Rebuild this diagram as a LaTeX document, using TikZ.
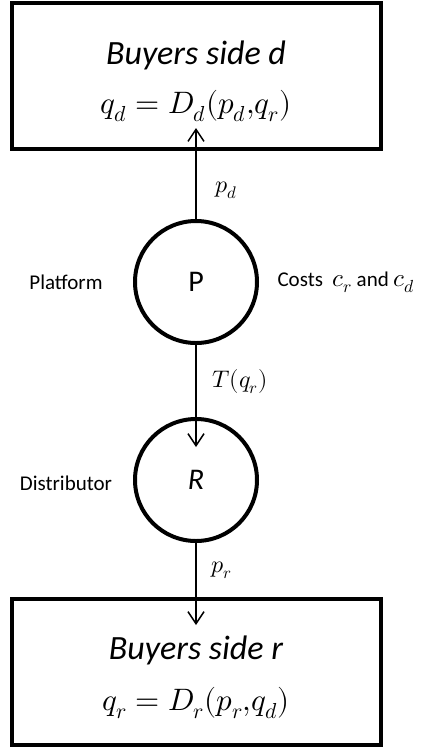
\documentclass[tikz,border=0pt]{standalone}
\usepackage{unicode-math}
\setmainfont{Carlito}
\setmathfont{Latin Modern Math}
\usetikzlibrary{arrows.meta}
\begin{document}
\begin{tikzpicture}[x=1pt,y=-1pt,
  box/.style={draw,line width=4pt,rectangle,minimum width=369pt,minimum height=146pt,inner sep=0pt},
  agent/.style={draw,line width=4pt,circle,minimum size=122pt,inner sep=0pt,font=\fontsize{30}{34}\selectfont},
  flow/.style={line width=1.5pt,-{Straight Barb[length=12pt,width=16pt,line width=1.5pt]}},
  lbl/.style={font=\fontsize{21}{25}\selectfont},
  ttl/.style={font=\fontsize{34}{40}\selectfont\itshape},
  eqn/.style={font=\fontsize{31}{36}\selectfont},
  mlbl/.style={font=\fontsize{24}{28}\selectfont}]
\useasboundingbox (0,0) rectangle (421,748);
\node[box] (top) at (196.5,76) {};
\node[box] (bot) at (196.5,672) {};
\node[agent] (P) at (196,282) {P};
\node[agent] (R) at (196,480) {\itshape R};
\coordinate (tipD) at (196,128);
\coordinate (tipR) at (196,447);
\coordinate (tipB) at (196,625);
\draw[flow] (P.north) -- (tipD);
\draw[flow] (P.south) -- (tipR);
\draw[flow] (R.south) -- (tipB);
\node[ttl] (t1) at (196,55) {Buyers side d};
\node[eqn] (e1) at (196,106) {$q_d = D_d(p_d{,}q_r)$};
\node[ttl] (t2) at (196,650) {Buyers side r};
\node[eqn] (e2) at (196,703) {$q_r = D_r(p_r{,}q_d)$};
\node[mlbl] (pd) at (226,190) {$p_d$};
\node[lbl] (pl) at (66,282) {Platform};
\node[lbl,anchor=west] (co) at (274,282) {Costs \ {\fontsize{25}{28}\selectfont$c_r$} and {\fontsize{25}{28}\selectfont$c_d$}};
\node[mlbl] (T) at (240,382) {$T(q_r)$};
\node[lbl] (di) at (66,483) {Distributor};
\node[mlbl] (pr) at (222,570) {$p_r$};
\end{tikzpicture}
\end{document}
